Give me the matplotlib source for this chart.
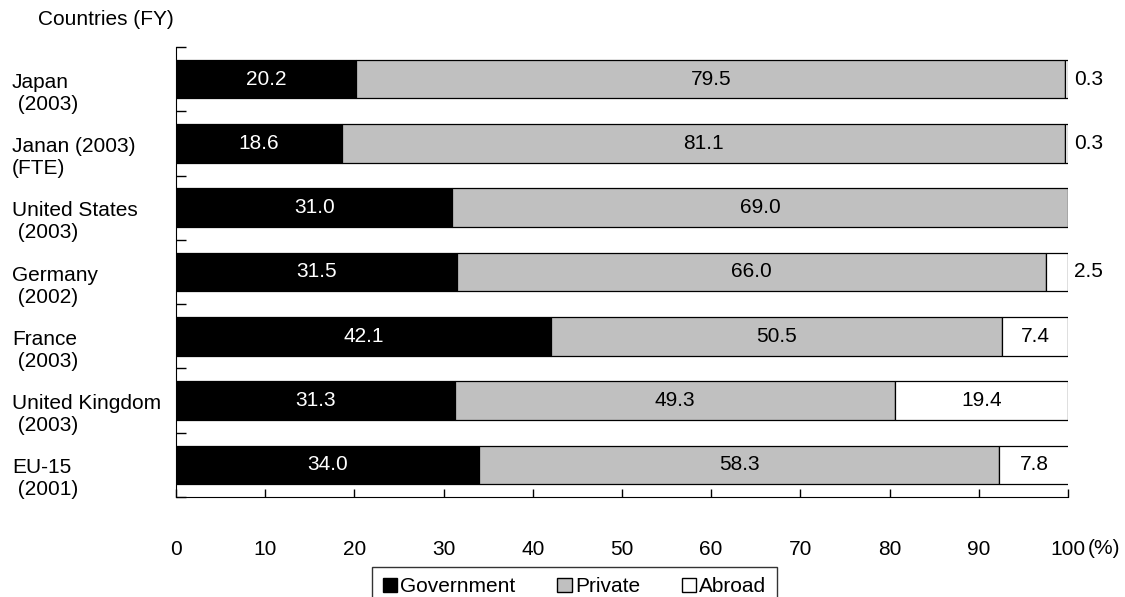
import matplotlib
matplotlib.use("Agg")
import matplotlib.pyplot as plt
from matplotlib.patches import Patch
import matplotlib.transforms as mtransforms

plt.rcParams["font.family"] = ["Liberation Sans", "DejaVu Sans"]

countries = ["Japan\n (2003)", "Janan (2003)\n(FTE)", "United States\n (2003)",
             "Germany\n (2002)", "France\n (2003)", "United Kingdom\n (2003)",
             "EU-15\n (2001)"]
government = [20.2, 18.6, 31.0, 31.5, 42.1, 31.3, 34.0]
private = [79.5, 81.1, 69.0, 66.0, 50.5, 49.3, 58.3]
abroad = [0.3, 0.3, 0.0, 2.5, 7.4, 19.4, 7.8]
xticks = [0, 10, 20, 30, 40, 50, 60, 70, 80, 90, 100]

fig = plt.figure(figsize=(11.25, 5.97), dpi=100)
ax = fig.add_axes([0.1564, 0.1675, 0.7929, 0.7538])

n = len(countries)
ys = list(range(n))
h = 0.6
fs = 15

ax.barh(ys, government, height=h, color="black", edgecolor="black", linewidth=0.9)
ax.barh(ys, private, left=government, height=h, color="#c0c0c0", edgecolor="black", linewidth=0.9)
left2 = [g + p for g, p in zip(government, private)]
for y, a, l in zip(ys, abroad, left2):
    if a > 0:
        ax.barh(y, a, left=l, height=h, color="white", edgecolor="black", linewidth=0.9)

for y, g, p, a, l in zip(ys, government, private, abroad, left2):
    ax.text(g / 2, y, f"{g:.1f}", color="white", ha="center", va="center", fontsize=fs)
    ax.text(g + p / 2, y, f"{p:.1f}", color="black", ha="center", va="center", fontsize=fs)
    if a >= 5:
        ax.text(l + a / 2, y, f"{a:.1f}", color="black", ha="center", va="center", fontsize=fs)
    elif a > 0:
        ax.text(100.7, y, f"{a:.1f}", color="black", ha="left", va="center", fontsize=fs)

ax.set_xlim(0, 100)
ax.set_ylim(n - 0.5, -0.5)
ax.set_xticks(xticks)
ax.set_xticklabels([str(t) for t in xticks], fontsize=fs)
ax.set_yticks([i - 0.5 for i in range(n + 1)])
ax.set_yticklabels([])
ax.tick_params(axis="x", direction="in", length=6, pad=31, width=1)
ax.tick_params(axis="y", direction="in", length=7, width=1)
for s in ["top", "right"]:
    ax.spines[s].set_visible(False)

trans = mtransforms.blended_transform_factory(fig.transFigure, ax.transData)
for y, lab in zip(ys, countries):
    ax.text(0.0107, y - 0.1, lab, transform=trans, ha="left", va="top", fontsize=fs,
            linespacing=1.2)

fig.text(0.0338, 0.967, "Countries (FY)", ha="left", va="center", fontsize=fs)
fig.text(0.967, 1 - 549 / 597, "(%)", ha="left", va="center", fontsize=fs)

handles = [Patch(facecolor="black", edgecolor="black", label="Government"),
           Patch(facecolor="#c0c0c0", edgecolor="black", label="Private"),
           Patch(facecolor="white", edgecolor="black", label="Abroad")]
leg = fig.legend(handles=handles, loc="upper center", bbox_to_anchor=(0.5107, 1 - 567 / 597),
                 ncol=3, fontsize=fs, frameon=True, fancybox=False, handlelength=0.7,
                 handleheight=0.7, handletextpad=0.15, columnspacing=2.0, borderpad=0.5,
                 borderaxespad=0)
leg.get_frame().set_edgecolor("black")
leg.get_frame().set_linewidth(1)

fig.savefig("out.png", dpi=100)
